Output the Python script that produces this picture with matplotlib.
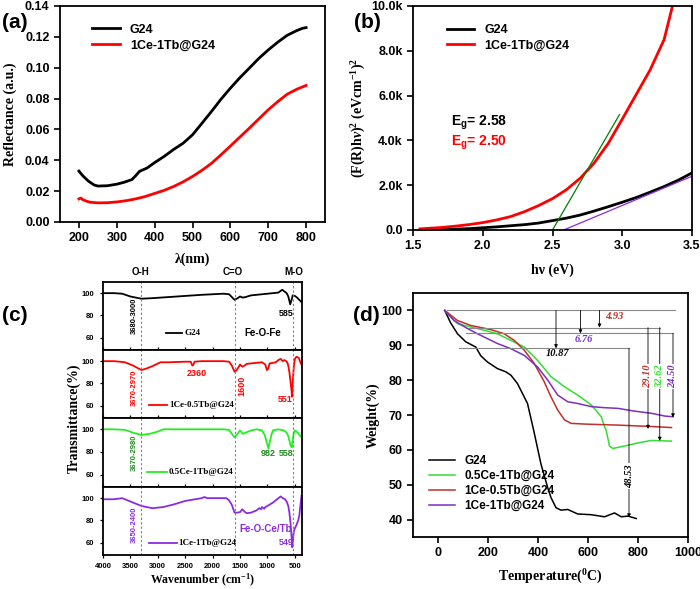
import matplotlib
matplotlib.use('Agg')
import matplotlib.pyplot as plt
from matplotlib.ticker import FuncFormatter, MultipleLocator

plt.rcParams['font.family'] = 'Liberation Sans'
plt.rcParams['font.weight'] = 'bold'
plt.rcParams['mathtext.fontset'] = 'custom'
plt.rcParams['mathtext.rm'] = 'Liberation Serif:bold'
plt.rcParams['mathtext.it'] = 'Liberation Serif:italic:bold'
plt.rcParams['mathtext.bf'] = 'Liberation Serif:bold'
plt.rcParams['mathtext.sf'] = 'Liberation Sans:bold'
plt.rcParams['axes.linewidth'] = 1.3

serif = dict(family='Liberation Serif', weight='bold')

# (a) diffuse reflectance
a_wl_g24 = [200, 210, 225, 240, 250, 275, 300, 320, 340, 350, 360, 380, 400, 425, 450, 475,
            500, 525, 550, 575, 600, 625, 650, 675, 700, 725, 750, 775, 790, 800]
a_g24 = [0.0330, 0.0300, 0.0265, 0.0240, 0.0233, 0.0235, 0.0245, 0.0258, 0.0275, 0.0300,
         0.0328, 0.0350, 0.0385, 0.0425, 0.0470, 0.0510, 0.0565, 0.0640, 0.0716, 0.0795,
         0.0867, 0.0935, 0.0997, 0.1060, 0.1115, 0.1165, 0.1210, 0.1240, 0.1255, 0.1260]
a_wl_ce = [200, 205, 210, 220, 230, 250, 275, 300, 325, 350, 375, 400, 425, 450, 475, 500,
           525, 550, 575, 600, 625, 650, 675, 700, 725, 750, 775, 800]
a_ce = [0.0150, 0.0155, 0.0145, 0.0135, 0.0128, 0.0124, 0.0125, 0.0130, 0.0138, 0.0150,
        0.0165, 0.0185, 0.0205, 0.0230, 0.0260, 0.0295, 0.0335, 0.0380, 0.0435, 0.0492,
        0.0550, 0.0608, 0.0668, 0.0727, 0.0780, 0.0828, 0.0860, 0.0885]

# (b) Kubelka-Munk
b_hv_g24 = [1.55, 1.6, 1.7, 1.8, 1.9, 2.0, 2.1, 2.2, 2.3, 2.4, 2.5, 2.6, 2.7, 2.8, 2.9, 3.0,
            3.1, 3.2, 3.3, 3.4, 3.5]
b_g24 = [0, 10, 20, 40, 60, 100, 140, 190, 240, 310, 420, 530, 670, 850, 1040, 1240, 1450,
         1690, 1940, 2220, 2550]
b_hv_ce = [1.55, 1.6, 1.7, 1.8, 1.9, 2.0, 2.1, 2.2, 2.3, 2.4, 2.5, 2.6, 2.7, 2.8, 2.9, 3.0,
           3.1, 3.2, 3.3, 3.36]
b_ce = [50, 70, 110, 170, 240, 330, 450, 600, 820, 1090, 1400, 1800, 2320, 3000, 3870, 4950,
        6050, 7150, 8500, 10000]
b_fit_ce_x = [2.50, 2.98]
b_fit_ce_y = [0, 5150]
b_fit_g24_x = [2.58, 3.5]
b_fit_g24_y = [0, 2400]

# (c) FTIR
c_wn_g24 = [4000, 3800, 3650, 3500, 3300, 3100, 2800, 2500, 2200, 2000, 1800, 1700, 1640, 1600,
            1560, 1500, 1450, 1400, 1300, 1200, 1100, 1000, 900, 800, 760, 730, 690, 650, 620,
            600, 585, 560, 540, 500, 460, 420, 380]
c_g24 = [100, 100, 99.5, 97, 95, 95.5, 96.5, 97.5, 98.5, 99, 99.5, 99, 96, 94, 95, 97, 96, 96.5,
         98, 98.5, 99, 99.5, 100, 100.5, 102, 103, 101.5, 100, 97, 93, 90, 94, 98, 97.5, 96, 94, 92]
c_wn_105 = [4000, 3800, 3600, 3450, 3300, 3200, 3100, 2950, 2800, 2500, 2400, 2370, 2350, 2330,
            2200, 2000, 1800, 1700, 1650, 1600, 1560, 1500, 1460, 1420, 1380, 1300, 1200, 1100,
            1040, 1010, 990, 960, 900, 850, 800, 760, 720, 690, 660, 640, 620, 600, 580, 560,
            551, 540, 520, 500, 470, 430, 400, 380]
c_105 = [100, 100, 99, 96, 92, 93.5, 95.5, 99, 99, 99.5, 99.5, 96, 97, 99.5, 100, 100, 100, 99.5,
         96, 90.5, 92, 97, 95, 96, 97.5, 98, 98.5, 99, 97, 92, 93, 98, 98.5, 99, 101, 102, 100,
         101, 100, 99, 96, 90, 82, 73, 68, 80, 95, 102, 104, 103, 99, 97]
c_wn_051 = [4000, 3800, 3600, 3450, 3300, 3150, 3000, 2900, 2500, 2000, 1800, 1700, 1650, 1600,
            1560, 1500, 1450, 1400, 1300, 1200, 1100, 1050, 1010, 982, 960, 930, 900, 850, 800,
            750, 700, 650, 620, 600, 580, 558, 540, 520, 500, 470, 430, 400, 380]
c_051 = [100, 100, 99.5, 97, 95, 96, 98, 100, 100, 100, 100, 99.5, 96, 93, 95, 99, 96, 97, 99,
         100, 99, 95, 88, 83, 88, 95, 99, 99.5, 100, 99.5, 99, 97, 94, 90, 86, 84, 90, 97, 99,
         98, 96, 94, 93]
c_wn_11 = [4000, 3800, 3650, 3500, 3300, 3100, 2900, 2700, 2500, 2200, 2150, 2100, 2000, 1800,
           1750, 1700, 1650, 1600, 1550, 1500, 1460, 1420, 1380, 1300, 1200, 1150, 1120, 1100,
           1060, 1040, 1000, 900, 800, 760, 720, 680, 650, 620, 600, 580, 560, 549, 540, 520,
           500, 470, 440, 420, 400, 380]
c_11 = [99, 99, 100, 97, 93, 91, 92, 94.5, 97.5, 100, 101, 100, 100, 100, 100, 98, 94, 87, 87,
        87.5, 90, 88, 86.5, 87, 89, 91, 90, 92, 90.5, 92, 93, 96, 100, 101.5, 100, 99, 97, 93,
        87, 78, 65, 56, 60, 70, 73, 76, 80, 84, 93, 102]

# (d) TGA
d_t_g24 = [27, 50, 78, 111, 151, 171, 198, 238, 271, 292, 318, 358, 383, 412, 439, 452, 472,
           492, 519, 559, 613, 666, 706, 733, 760, 793]
d_g24 = [100, 96.5, 93.3, 91, 89.5, 87, 85.2, 83.3, 82.4, 81.4, 79, 73.3, 65.5, 55.9, 49.1,
         46.3, 43.4, 42.7, 42.9, 41.6, 41.4, 40.8, 41.9, 40.8, 41, 40.3]
d_t_051 = [27, 78, 158, 238, 292, 345, 398, 452, 506, 559, 613, 653, 666, 673, 686, 699, 746,
           800, 853, 934]
d_051 = [100, 96.2, 94.8, 93.3, 91.4, 89.5, 85.7, 81, 78.1, 75.7, 72.9, 69.5, 66.7, 65.5, 61.1,
         60.4, 61.1, 62, 62.7, 62.5]
d_t_105 = [27, 78, 131, 211, 265, 305, 345, 385, 425, 452, 479, 506, 532, 586, 720, 853, 934]
d_105 = [100, 97.1, 95.7, 94.5, 93.3, 91.4, 88.6, 84.8, 79.5, 75.2, 71.4, 68.6, 67.6, 67.4,
         67.1, 66.7, 66.4]
d_t_11 = [27, 64, 118, 158, 198, 238, 292, 345, 398, 439, 479, 519, 559, 613, 666, 720, 787,
          853, 907, 940]
d_11 = [100, 97.1, 94.8, 93.3, 91.9, 90.5, 89, 87.1, 83.8, 80, 75.7, 73.8, 73.3, 72.4, 72.1,
        71.9, 71.1, 70.5, 69.7, 69.5]

W, H = 700, 589
fig = plt.figure(figsize=(7, 5.89), dpi=100)


def ax_px(l, t, r, b):
    return fig.add_axes([l / W, 1 - b / H, (r - l) / W, (b - t) / H])


# ---------- (a)
ax = ax_px(60, 6, 325, 222)
ax.plot(a_wl_g24, a_g24, color='black', lw=2, label='G24')
ax.plot(a_wl_ce, a_ce, color='red', lw=2, label='1Ce-1Tb@G24')
ax.set_xlim(150, 850)
ax.set_ylim(0, 0.14)
ax.set_xticks([200, 300, 400, 500, 600, 700, 800])
ax.set_yticks([0, 0.02, 0.04, 0.06, 0.08, 0.10, 0.12, 0.14])
ax.yaxis.set_major_formatter(FuncFormatter(lambda v, p: '%.2f' % v))
ax.tick_params(labelsize=9, width=1.2, length=4)
ax.set_xlabel('λ(nm)', fontsize=10, labelpad=6, **serif)
ax.set_ylabel('Reflectance (a.u.)', fontsize=10, labelpad=6, **serif)
ax.legend(loc='upper left', bbox_to_anchor=(0.08, 0.97), frameon=False, fontsize=9,
          handlelength=2.2, labelspacing=0.3)
fig.text(2 / W, 1 - 22 / H, '(a)', fontsize=15, weight='bold', va='center')

# ---------- (b)
ax = ax_px(413, 6, 692, 230)
ax.plot(b_hv_g24, b_g24, color='black', lw=2, label='G24')
ax.plot(b_hv_ce, b_ce, color='red', lw=2, label='1Ce-1Tb@G24')
ax.plot(b_fit_ce_x, b_fit_ce_y, color='green', lw=0.9)
ax.plot(b_fit_g24_x, b_fit_g24_y, color='#8a2be2', lw=0.9)
ax.set_xlim(1.5, 3.5)
ax.set_ylim(0, 10000)
ax.set_xticks([1.5, 2.0, 2.5, 3.0, 3.5])
ax.set_yticks([0, 2000, 4000, 6000, 8000, 10000])
ax.yaxis.set_major_formatter(FuncFormatter(lambda v, p: '0.0' if v == 0 else '%.1fk' % (v / 1000)))
ax.tick_params(labelsize=9, width=1.2, length=4)
ax.set_xlabel('hν (eV)', fontsize=10, labelpad=8, **serif)
ax.set_ylabel(r'(F(R)h$\nu$)$^2$ (eVcm$^{-1}$)$^2$', fontsize=10, labelpad=2, **serif)
ax.legend(loc='upper left', bbox_to_anchor=(0.08, 0.97), frameon=False, fontsize=9,
          handlelength=2.2, labelspacing=0.3)
ax.text(1.77, 4760, r'E$_\mathsf{g}$= 2.58', fontsize=10, weight='bold', color='black',
        va='center')
ax.text(1.77, 3870, r'E$_\mathsf{g}$= 2.50', fontsize=10, weight='bold', color='red',
        va='center')
fig.text(354 / W, 1 - 22 / H, '(b)', fontsize=15, weight='bold', va='center')

# ---------- (c)
bounds = [282, 350, 418, 487, 555]
c_series = [
    (c_wn_g24, c_g24, 'black', 'G24'),
    (c_wn_105, c_105, 'red', '1Ce-0.5Tb@G24'),
    (c_wn_051, c_051, '#22ee22', '0.5Ce-1Tb@G24'),
    (c_wn_11, c_11, '#8a2be2', '1Ce-1Tb@G24'),
]
c_axes = []
for i, (x, y, col, lab) in enumerate(c_series):
    ax = ax_px(103, bounds[i], 302, bounds[i + 1])
    ax.plot(x, y, color=col, lw=1.3)
    ax.set_xlim(4000, 370)
    ax.set_ylim(49, 110)
    ax.set_yticks([60, 80, 100])
    ax.xaxis.set_major_locator(MultipleLocator(500))
    for xv in [3300, 1600, 530]:
        ax.axvline(xv, color='gray', ls=(0, (2, 2)), lw=0.8)
    ax.tick_params(labelsize=5.5, width=0.9, length=2.5)
    if i < 3:
        ax.tick_params(axis='x', direction='in', labelbottom=False)
    # legend-like line + label
    lx = {0: (2850, 2550), 1: (3170, 2830), 2: (3200, 2830), 3: (3160, 2650)}[i]
    ly = {0: 64, 1: 61, 2: 62, 3: 60}[i]
    ax.plot(lx, [ly, ly], color=col, lw=1.3)
    ax.text(lx[1] - 30, ly, lab, fontsize=6.5, va='center', ha='left', **serif)
    c_axes.append(ax)

c_axes[3].set_xlabel(r'Wavenumber (cm$^{-1}$)', fontsize=8.5, labelpad=1, **serif)
fig.text(74 / W, 1 - 418 / H, 'Transmittance(%)', rotation=90, fontsize=10, va='center',
         ha='center', **serif)

ax = c_axes[0]
ax.text(3430, 80, '3680-3000', rotation=90, fontsize=5.5, color='black', ha='center', va='center')
ax.text(660, 82, '585', fontsize=6.5, color='black', ha='center', va='center')
ax.text(1080, 64, 'Fe-O-Fe', fontsize=7, color='black', ha='center', va='center')
ax = c_axes[1]
red = 'red'
ax.text(3430, 76, '3670-2970', rotation=90, fontsize=5.5, color=red, ha='center', va='center')
ax.text(2290, 89, '2360', fontsize=6.5, color=red, ha='center', va='center')
ax.text(1460, 78, '1600', rotation=90, fontsize=6.5, color=red, ha='center', va='center')
ax.text(670, 66, '551', fontsize=6.5, color=red, ha='center', va='center')
ax = c_axes[2]
dg = '#1e8c1e'
ax.text(3430, 79, '3670-2980', rotation=90, fontsize=5.5, color=dg, ha='center', va='center')
ax.text(985, 78.5, '982', fontsize=6.5, color=dg, ha='center', va='center')
ax.text(650, 78.5, '558', fontsize=6.5, color=dg, ha='center', va='center')
ax = c_axes[3]
pu = '#8a2be2'
ax.text(3430, 76, '3650-2400', rotation=90, fontsize=5.5, color=pu, ha='center', va='center')
ax.text(1030, 72, 'Fe-O-Ce/Tb', fontsize=7, color=pu, ha='center', va='center')
ax.text(660, 60, '549', fontsize=6.5, color=pu, ha='center', va='center')

fig.text(140 / W, 1 - 272 / H, 'O-H', fontsize=7, ha='center', va='center')
fig.text(233 / W, 1 - 272 / H, 'C=O', fontsize=7, ha='center', va='center')
fig.text(294 / W, 1 - 272 / H, 'M-O', fontsize=7, ha='center', va='center')
fig.text(2 / W, 1 - 315 / H, '(c)', fontsize=15, weight='bold', va='center')

# ---------- (d)
ax = ax_px(413, 293, 688, 537)
d_cols = ['black', '#33dd33', '#c0302a', '#7a2fc0']
ax.plot(d_t_g24, d_g24, color=d_cols[0], lw=1.1, label='G24')
ax.plot(d_t_051, d_051, color=d_cols[1], lw=1.1, label='0.5Ce-1Tb@G24')
ax.plot(d_t_105, d_105, color=d_cols[2], lw=1.1, label='1Ce-0.5Tb@G24')
ax.plot(d_t_11, d_11, color=d_cols[3], lw=1.1, label='1Ce-1Tb@G24')
ax.set_xlim(-100, 1000)
ax.set_ylim(35, 105)
ax.set_xticks([0, 200, 400, 600, 800, 1000])
ax.set_yticks([40, 50, 60, 70, 80, 90, 100])
ax.tick_params(labelsize=9, width=1.2, length=4)
ax.set_xlabel(r'Temperature($^0$C)', fontsize=10, labelpad=6, **serif)
ax.set_ylabel('Weight(%)', fontsize=10, labelpad=1, **serif)
ax.legend(loc='lower left', bbox_to_anchor=(0.02, 0.06), frameon=False, fontsize=8.5,
          handlelength=2.2, labelspacing=0.25)

gc = '#888888'
ax.plot([37, 947], [100, 100], color=gc, lw=0.8)
ax.plot([124, 887], [95.07, 95.07], color=gc, lw=0.8)
ax.plot([110, 940], [93.4, 93.4], color=gc, lw=0.8)
ax.plot([85, 764], [89.13, 89.13], color=gc, lw=0.8)
arrows = [(472, 100, 89.13), (570, 100, 93.4), (646, 100, 95.07),
          (840, 95.07, 66.0), (887, 95.07, 62.6), (940, 93.4, 69.3), (764, 89.13, 40.6)]
for xa, y0, y1 in arrows:
    ax.annotate('', xy=(xa, y1), xytext=(xa, y0),
                arrowprops=dict(arrowstyle='-|>', color='black', lw=0.6, mutation_scale=5,
                                shrinkA=0, shrinkB=0))
it = dict(family='Liberation Serif', weight='bold', style='italic')
ax.text(705, 98.3, '4.93', fontsize=7.5, color='#c0302a', ha='center', va='center', **it)
ax.text(583, 91.6, '6.76', fontsize=7.5, color='#7a2fc0', ha='center', va='center', **it)
ax.text(478, 87.6, '10.87', fontsize=7.5, color='black', ha='center', va='center', **it)
bb = dict(facecolor='white', edgecolor='none', pad=0.5)
ax.text(838, 81, '29.10', rotation=90, fontsize=7.5, color='#c0302a', ha='center', va='center',
        bbox=bb, **it)
ax.text(885, 81, '32.62', rotation=90, fontsize=7.5, color='#33dd33', ha='center', va='center',
        bbox=bb, **it)
ax.text(940, 81, '24.50', rotation=90, fontsize=7.5, color='#7a2fc0', ha='center', va='center',
        bbox=bb, **it)
ax.text(767, 52.5, '48.53', rotation=90, fontsize=7.5, color='black', ha='center', va='center',
        bbox=bb, **it)
fig.text(353 / W, 1 - 315 / H, '(d)', fontsize=15, weight='bold', va='center')

fig.savefig('out.png', dpi=100)
